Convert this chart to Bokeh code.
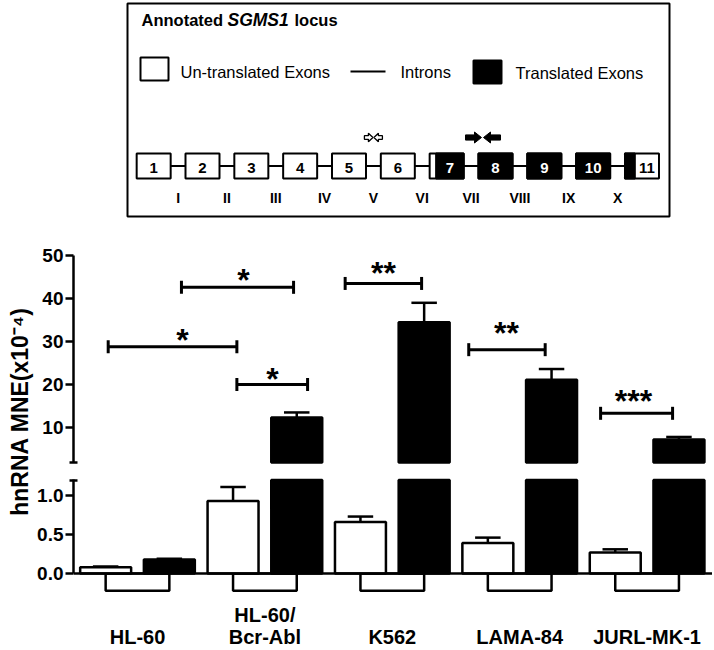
import numpy as np
from bokeh.plotting import figure
from bokeh.layouts import column, row
from bokeh.models import Range1d, FixedTicker, PrintfTickFormatter, Span
from bokeh.core.properties import value
from bokeh.embed import file_html
from bokeh.resources import INLINE

FONT = "Liberation Sans"

# ---------------- data ----------------
cell_lines = ["HL-60", "HL-60/\nBcr-Abl", "K562", "LAMA-84", "JURL-MK-1"]
untranslated_mean = [0.08, 0.93, 0.66, 0.39, 0.27]
untranslated_err = [0.01, 0.18, 0.07, 0.07, 0.04]
translated_mean = [0.18, 12.3, 34.5, 21.1, 7.2]
translated_err = [0.01, 1.2, 4.5, 2.5, 0.6]
pair_bracket_depth = [-0.22, -0.22, -0.22, -0.22, -0.22]

sig_left = [-0.23, 0.345, 0.78, 1.63, 2.60, 3.635]
sig_right = [0.78, 1.225, 1.335, 2.23, 3.20, 4.20]
sig_level = [28.8, 42.6, 20.0, 43.5, 28.1, 13.3]
sig_label_x = [0.353, 0.832, 1.06, 1.931, 2.896, 3.893]
sig_label_level = [31.9, 45.9, 22.95, 47.6, 33.5, 17.8]
sig_text = ["*", "*", "*", "**", "**", "***"]

upper_ticks = [10, 20, 30, 40, 50]
lower_ticks = [0.0, 0.5, 1.0]
upper_break = 1.86
lower_break = 1.2
y_label = "hnRNA MNE(x10\u207b\u2074)"

exon_numbers = [1, 2, 3, 4, 5, 6, 7, 8, 9, 10, 11]
exon_black_start = [0, 0, 0, 0, 0, 0, 0.19, 0.0, 0.0, 0.0, 0.0]
exon_black_end = [0, 0, 0, 0, 0, 0, 1.0, 1.0, 1.0, 1.0, 0.29]
intron_labels = ["I", "II", "III", "IV", "V", "VI", "VII", "VIII", "IX", "X"]
legend_labels = ["Un-translated Exons", "Introns", "Translated Exons"]

# ---------------- layout constants ----------------
W = 712
D_H = 230
U_H = 240
L_H = 178
YL_W = 34
CH_W = W - YL_W
CH_LEFT = 73 - YL_W

xr = Range1d(-0.50235, (W - 137) / 127.4)


def base_fig(w, h, xr_, yr_, left=0, yaxis=False):
    p = figure(width=w, height=h, x_range=xr_, y_range=yr_, toolbar_location=None,
               output_backend="svg", tools="", min_border_left=left, min_border_right=0,
               min_border_top=0, min_border_bottom=0, x_axis_location=None,
               y_axis_location=("left" if yaxis else None))
    p.outline_line_color = None
    p.grid.visible = False
    p.background_fill_color = "white"
    p.border_fill_color = "white"
    return p


def style_axis(ax, ticks, minor, bounds, fmt=None):
    ax.ticker = FixedTicker(ticks=ticks, minor_ticks=minor)
    ax.bounds = bounds
    ax.axis_line_width = 2.5
    ax.major_tick_line_width = 2.5
    ax.major_tick_in = 0
    ax.major_tick_out = 8
    ax.minor_tick_line_width = 2.5
    ax.minor_tick_in = 4
    ax.minor_tick_out = 4
    ax.major_label_text_font = FONT
    ax.major_label_text_font_style = "bold"
    ax.major_label_text_font_size = "19px"
    ax.major_label_text_color = "black"
    ax.major_label_standoff = 2
    if fmt is not None:
        ax.formatter = fmt


g = np.arange(len(cell_lines))
w_x = g - 0.25
b_x = g + 0.25
BW = 0.40
CAP = 0.1
um = np.array(untranslated_mean)
ue = np.array(untranslated_err)
tm = np.array(translated_mean)
te = np.array(translated_err)

# ---------------- upper segment ----------------
U = base_fig(CH_W, U_H, xr, Range1d(0.0, 55.814), left=CH_LEFT, yaxis=True)
style_axis(U.yaxis[0], upper_ticks, [upper_break + 0.01], (upper_break, 50))
big = tm > lower_break
U.vbar(x=b_x[big], bottom=upper_break, top=tm[big], width=BW, fill_color="black",
       line_color="black", line_width=2.5)
U.segment(x0=b_x[big], y0=tm[big], x1=b_x[big], y1=(tm + te)[big], line_color="black", line_width=2.5)
U.segment(x0=b_x[big] - CAP, y0=(tm + te)[big], x1=b_x[big] + CAP, y1=(tm + te)[big],
          line_color="black", line_width=2.5)
U.segment(x0=sig_left, y0=sig_level, x1=sig_right, y1=sig_level, line_color="black", line_width=3)
U.scatter(x=sig_left + sig_right, y=sig_level + sig_level, marker="dash", angle=np.pi / 2,
          size=13, line_color="black", line_width=3)
U.text(x=sig_label_x, y=sig_label_level, text=sig_text,
       text_font=value(FONT), text_font_style="bold", text_font_size="32px",
       text_align="center", text_baseline="middle", y_offset=7, text_color="black")

# ---------------- lower segment ----------------
L = base_fig(CH_W, L_H, xr, Range1d((573 - 648) / 78, (573 - 470) / 78), left=CH_LEFT, yaxis=True)
style_axis(L.yaxis[0], lower_ticks, [lower_break - 0.01], (0, lower_break), PrintfTickFormatter(format="%.1f"))
L.quad(left=g - 0.25, right=g + 0.25, top=0, bottom=pair_bracket_depth, fill_color="white",
       line_color="black", line_width=2.5)
L.vbar(x=w_x, bottom=0, top=um, width=BW, fill_color="white", line_color="black", line_width=2.5)
L.segment(x0=w_x, y0=um, x1=w_x, y1=um + ue, line_color="black", line_width=2.5)
L.segment(x0=w_x - CAP, y0=um + ue, x1=w_x + CAP, y1=um + ue, line_color="black", line_width=2.5)
L.vbar(x=b_x, bottom=0, top=np.minimum(tm, lower_break), width=BW, fill_color="black",
       line_color="black", line_width=2.5)
small = ~big
L.segment(x0=b_x[small], y0=tm[small], x1=b_x[small], y1=(tm + te)[small], line_color="black", line_width=2.5)
L.segment(x0=b_x[small] - CAP, y0=(tm + te)[small], x1=b_x[small] + CAP, y1=(tm + te)[small],
          line_color="black", line_width=2.5)
L.add_layout(Span(location=0, dimension="width", line_color="black", line_width=2.5))

lab_x, lab_t, lab_off = [], [], []
for i, name in enumerate(cell_lines):
    parts = name.split("\n")
    offs = [0] if len(parts) == 1 else [-22, 0]
    for t, o in zip(parts, offs):
        lab_x.append(i)
        lab_t.append(t)
        lab_off.append(o)
L.text(x=lab_x, y=(573 - 636) / 78, text=lab_t, y_offset=lab_off, text_font=value(FONT),
       text_font_style="bold", text_font_size="20px", text_align="center",
       text_baseline="middle", text_color="black")

# ---------------- y label ----------------
YL = base_fig(YL_W, U_H + L_H, Range1d(0, YL_W), Range1d(0, U_H + L_H))
YL.text(x=[19], y=[(D_H + U_H + L_H) - 411], text=[y_label], angle=np.pi / 2, text_font=value(FONT),
        text_font_style="bold", text_font_size="23px", text_align="center",
        text_baseline="middle", text_color="black")

# ---------------- gene diagram ----------------
D = base_fig(W, D_H, Range1d(0, W), Range1d(D_H, 0))
pitch = 48.83
cx = 397.32 + pitch * (np.array(exon_numbers) - 6)
EW = 34
ey0, ey1 = 153, 178
D.quad(left=127, right=669, top=3, bottom=216, fill_color=None, line_color="black", line_width=2)
D.text(x=[141], y=[19], text=["Annotated"], text_font=value(FONT), text_font_style="bold",
       text_font_size="16.5px", text_baseline="middle", text_color="black")
D.text(x=[227], y=[19], text=["SGMS1"], text_font=value(FONT), text_font_style="bold italic",
       text_font_size="17.5px", text_baseline="middle", text_color="black")
D.text(x=[294], y=[19], text=["locus"], text_font=value(FONT), text_font_style="bold",
       text_font_size="16.5px", text_baseline="middle", text_color="black")
# legend
D.quad(left=140, right=168, top=57, bottom=80, fill_color="white", line_color="black", line_width=2)
D.segment(x0=350, y0=71, x1=385, y1=71, line_color="black", line_width=2)
D.quad(left=473, right=501, top=60, bottom=83, fill_color="black", line_color="black", line_width=2)
D.text(x=[180, 400, 515], y=[71, 71, 72], text=legend_labels, text_font=value(FONT),
       text_font_size="16.5px", text_baseline="middle", text_color="black")
# introns
D.segment(x0=cx[0], y0=165.5, x1=cx[-1], y1=165.5, line_color="black", line_width=2)
# exons
D.quad(left=cx - EW / 2, right=cx + EW / 2, top=ey0, bottom=ey1, fill_color="white",
       line_color="black", line_width=2)
bs = np.array(exon_black_start)
be = np.array(exon_black_end)
has = be > bs
D.quad(left=(cx - EW / 2 + bs * EW)[has], right=(cx - EW / 2 + be * EW)[has], top=ey0, bottom=ey1,
       fill_color="black", line_color="black", line_width=2)
num_x = []
num_c = []
for i, n in enumerate(exon_numbers):
    if has[i] and (be[i] - bs[i]) < 0.99:
        if bs[i] > 0:
            num_x.append(cx[i] - EW / 2 + (bs[i] + be[i]) / 2 * EW)
            num_c.append("white")
        else:
            num_x.append(cx[i] - EW / 2 + (be[i] + 1) / 2 * EW)
            num_c.append("black")
    else:
        num_x.append(cx[i])
        num_c.append("white" if has[i] else "black")
D.text(x=num_x, y=167, text=[str(n) for n in exon_numbers], text_color=num_c,
       text_font=value(FONT), text_font_style="bold", text_font_size="15px",
       text_align="center", text_baseline="middle")
ix = (cx[:-1] + cx[1:]) / 2
D.text(x=ix, y=197, text=intron_labels, text_font=value(FONT), text_font_style="bold",
       text_font_size="14px", text_align="center", text_baseline="middle", text_color="black")


def arrow(x_tail, x_tip, y, t, h, a):
    d = 1 if x_tip > x_tail else -1
    xb = x_tip - d * h
    return ([x_tail, xb, xb, x_tip, xb, xb, x_tail], [y - t, y - t, y - a, y, y + a, y + t, y + t])


ay = 137
oa1 = arrow(ix[4] - 9, ix[4] - 0.5, ay, 1.8, 4.5, 4.2)
oa2 = arrow(ix[4] + 9, ix[4] + 0.5, ay, 1.8, 4.5, 4.2)
D.patches(xs=[oa1[0], oa2[0]], ys=[oa1[1], oa2[1]], fill_color="white", line_color="black", line_width=1.3)
bj = 482
ba1 = arrow(bj - 17, bj - 1, ay, 2.6, 7, 5.5)
ba2 = arrow(bj + 18, bj + 1, ay, 2.6, 7, 5.5)
D.patches(xs=[ba1[0], ba2[0]], ys=[ba1[1], ba2[1]], fill_color="black", line_color="black", line_width=1)

layout = column(D, row(YL, column(U, L)))
open("out.html", "w").write(file_html(layout, INLINE))
